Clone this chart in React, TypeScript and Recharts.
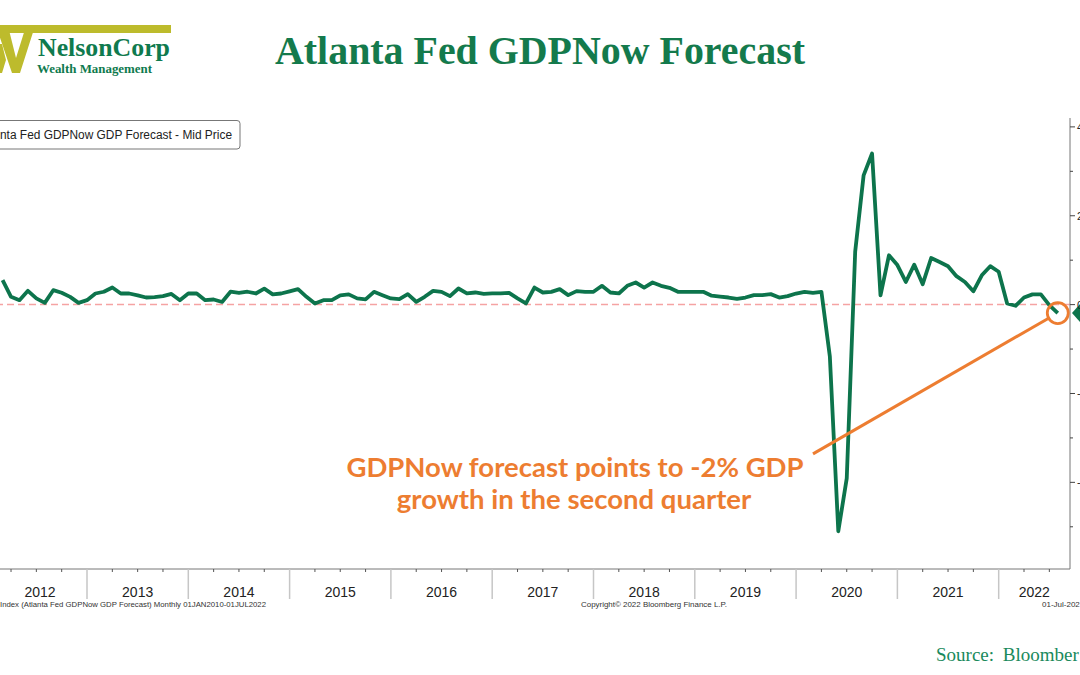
import React from 'react';
import { LineChart, Line, XAxis, YAxis, ReferenceLine, ReferenceDot } from 'recharts';

// ---- data (month-end readings of the Atlanta Fed GDPNow forecast, %) ----
const gdp2012 = [5.5, 1.75, 1.0, 3.1, 1.4, 0.4, 3.25, 2.66, 1.75, 0.4, 1.0]; // Feb–Dec
const gdp2013 = [2.5, 2.9, 3.86, 2.5, 2.5, 2.1, 1.6, 1.7, 1.9, 2.4, 1.0, 2.5];
const gdp2014 = [2.5, 1.0, 1.15, 0.6, 2.9, 2.66, 2.9, 2.5, 3.6, 2.3, 2.5, 3.0];
const gdp2015 = [3.5, 1.75, 0.26, 1.0, 1.0, 2.1, 2.3, 1.4, 1.16, 2.88, 2.13, 1.39];
const gdp2016 = [1.24, 2.36, 0.64, 1.76, 3.1, 2.88, 1.91, 3.63, 2.51, 2.73, 2.43, 2.51];
const gdp2017 = [2.51, 2.66, 1.39, 0.26, 3.85, 2.73, 2.88, 3.48, 2.13, 3.03, 2.88, 2.88];
const gdp2018 = [4.23, 2.73, 2.51, 4.23, 4.98, 3.85, 4.98, 4.23, 3.78, 2.88, 2.88, 2.88];
const gdp2019 = [2.88, 2.0, 1.8, 1.6, 1.3, 1.6, 2.13, 2.13, 2.36, 1.6, 1.9, 2.5];
const gdp2020 = [2.88, 2.66, 2.88, -11.7, -51.0, -39.1, 11.9, 29.1, 34.0, 2.1, 11.1, 8.9];
const gdp2021 = [5.1, 9.0, 4.6, 10.5, 9.6, 8.65, 6.4, 5.1, 3.0, 6.6, 8.65, 7.4];
const gdp2022 = [0.26, -0.26, 1.6, 2.3, 2.3, -0.1, -1.9]; // Jan–Jul

// [year, first month, values]
const yearBlocks: [number, number, number[]][] = [
  [2012, 2, gdp2012],
  [2013, 1, gdp2013],
  [2014, 1, gdp2014],
  [2015, 1, gdp2015],
  [2016, 1, gdp2016],
  [2017, 1, gdp2017],
  [2018, 1, gdp2018],
  [2019, 1, gdp2019],
  [2020, 1, gdp2020],
  [2021, 1, gdp2021],
  [2022, 1, gdp2022],
];

const yearLabels = [2012, 2013, 2014, 2015, 2016, 2017, 2018, 2019, 2020, 2021, 2022];
const majorYTicks = [-40, -20, 0, 20, 40];
const minorYTicks = [-50, -30, -10, 10, 30];

// ---- axis settings ----
const xDomain: [number, number] = [2012.072, 2022.704];
const yDomain: [number, number] = [-59.5, 42];

const data: { t: number; v: number }[] = [];
yearBlocks.forEach(([year, firstMonth, vals]) => {
  vals.forEach((v, i) => data.push({ t: year + (firstMonth + i) / 12, v }));
});
const lastPoint = data[data.length - 1];

// tick lists
const boundaryTicks = yearLabels.filter((y) => y > xDomain[0] && y < xDomain[1]);
const quarterTicks: number[] = [];
yearLabels.forEach((y) => {
  [0.25, 0.5, 0.75].forEach((q) => {
    const t = y + q;
    if (t > xDomain[0] && t < xDomain[1]) quarterTicks.push(t);
  });
});
const labelTicks = yearLabels.map((y) => {
  const lo = Math.max(y, xDomain[0]);
  const hi = Math.min(y + 1, xDomain[1]);
  return { year: y, t: (lo + hi) / 2 };
});
const allXTicks = Array.from(
  new Set([...boundaryTicks, ...quarterTicks, ...labelTicks.map((l) => l.t)].map((v) => Math.round(v * 1e6) / 1e6))
).sort((a, b) => a - b);
const allYTicks = [...majorYTicks, ...minorYTicks].sort((a, b) => a - b);

const near = (a: number, b: number) => Math.abs(a - b) < 1e-4;

const GREEN = '#0d744c';
const ORANGE = '#ED7D31';
const AXIS_FONT = '"Liberation Sans", Arial, sans-serif';
const SERIF = '"Liberation Serif", "Times New Roman", serif';

const renderXTick = (props: any) => {
  const { x, y, payload } = props;
  const v = payload.value;
  const isBoundary = boundaryTicks.some((b) => near(b, v));
  const isQuarter = quarterTicks.some((q) => near(q, v));
  const label = labelTicks.find((l) => near(l.t, v));
  return (
    <g>
      {isBoundary && <line x1={x} x2={x} y1={y} y2={y + 30} stroke="#c6c6c6" strokeWidth={1.5} />}
      {isQuarter && <line x1={x} x2={x} y1={y} y2={y + 3} stroke="#555" strokeWidth={1} />}
      {label && (
        <text x={x} y={y + 27.5} textAnchor="middle" fontSize={14} fontFamily={AXIS_FONT} fill="#222">
          {label.year}
        </text>
      )}
    </g>
  );
};

const renderYTick = (props: any) => {
  const { x, y, payload } = props;
  const v = payload.value;
  const major = majorYTicks.includes(v);
  return (
    <g>
      <line x1={x} x2={x + (major ? 5 : 3)} y1={y} y2={y} stroke="#444" strokeWidth={1} />
      {major && (
        <text x={x + 7} y={y + 4} fontSize={11} fontFamily={AXIS_FONT} fill="#222">
          {v}
        </text>
      )}
    </g>
  );
};

// annotation pointer (data coordinates)
const pointerStart = { x: 2020.167, y: -33.6 };
const pointerEnd = { x: 2022.493, y: -3.06 };

export default function App() {
  return (
    <div
      style={{
        position: 'absolute',
        left: 0,
        top: 0,
        width: 1080,
        height: 675,
        overflow: 'hidden',
        background: '#ffffff',
      }}
    >
      <div style={{ position: 'absolute', left: -7, top: 0 }}>
        <LineChart width={1087} height={675} data={data} margin={{ top: 118, right: 0, bottom: 76, left: 0 }}>
          <XAxis
            dataKey="t"
            type="number"
            domain={xDomain}
            allowDataOverflow
            ticks={allXTicks}
            interval={0}
            tickSize={0}
            tickMargin={0}
            tick={renderXTick}
            axisLine={{ stroke: '#777', strokeWidth: 1 }}
            height={30}
          />
          <YAxis
            orientation="right"
            type="number"
            domain={yDomain}
            allowDataOverflow
            ticks={allYTicks}
            interval={0}
            tickSize={0}
            tickMargin={0}
            tick={renderYTick}
            axisLine={{ stroke: '#777', strokeWidth: 1 }}
            width={10}
          />
          <ReferenceLine y={0} stroke="#f5a3a3" strokeDasharray="7 4" strokeWidth={1.5} />
          <Line
            dataKey="v"
            type="linear"
            stroke={GREEN}
            strokeWidth={3.8}
            strokeLinejoin="round"
            dot={false}
            isAnimationActive={false}
          />
          <ReferenceLine
            segment={[pointerStart, pointerEnd]}
            stroke={ORANGE}
            strokeWidth={3}
            ifOverflow="visible"
          />
          <ReferenceDot
            x={lastPoint.t}
            y={lastPoint.v}
            r={10.5}
            fill="none"
            stroke={ORANGE}
            strokeWidth={2.8}
            ifOverflow="visible"
          />
          <ReferenceDot
            x={xDomain[1]}
            y={lastPoint.v}
            ifOverflow="visible"
            shape={(p: any) => (
              <polygon
                points={`${p.cx + 2},${p.cy} ${p.cx + 10},${p.cy - 9} ${p.cx + 40},${p.cy - 9} ${p.cx + 40},${p.cy + 9} ${p.cx + 10},${p.cy + 9}`}
                fill={GREEN}
              />
            )}
          />
        </LineChart>
      </div>

      <svg width={1080} height={675} style={{ position: 'absolute', left: 0, top: 0, pointerEvents: 'none' }}>
        {/* logo */}
        <rect x={0} y={25} width={171} height={8} fill="#BDBB2C" />
        <polygon points="-4,26 8,26 16,58 26,26 35,26 20,73 12,73" fill="#BDBB2C" />
        <polygon points="-2,44 2,44 6,60 2,73 -2,73" fill="#BDBB2C" />
        <text
          x={38}
          y={56}
          fontFamily={SERIF}
          fontWeight="bold"
          fontSize={25}
          fill="#0f7a4e"
          textLength={132}
          lengthAdjust="spacingAndGlyphs"
        >
          NelsonCorp
        </text>
        <text
          x={37}
          y={72.5}
          fontFamily={SERIF}
          fontWeight="bold"
          fontSize={12.5}
          fill="#0f7a4e"
          textLength={115}
          lengthAdjust="spacingAndGlyphs"
        >
          Wealth Management
        </text>

        {/* title */}
        <text
          x={275}
          y={64}
          fontFamily={SERIF}
          fontWeight="bold"
          fontSize={39}
          fill="#147a4c"
          textLength={530}
          lengthAdjust="spacingAndGlyphs"
        >
          Atlanta Fed GDPNow Forecast
        </text>

        {/* legend box */}
        <rect x={-6} y={120.5} width={246} height={28.5} rx={3} fill="#fff" stroke="#777" strokeWidth={1} />
        <text x={0} y={138.5} fontFamily={AXIS_FONT} fontSize={12.5} fill="#222" textLength={232} lengthAdjust="spacingAndGlyphs">
          nta Fed GDPNow GDP Forecast - Mid Price
        </text>

        {/* annotation */}
        <text
          x={575}
          y={477}
          textAnchor="middle"
          fontFamily='Lato, "Open Sans", sans-serif'
          fontWeight="bold"
          fontSize={27.5}
          fill={ORANGE}
        >
          GDPNow forecast points to -2% GDP
        </text>
        <text
          x={574}
          y={509}
          textAnchor="middle"
          fontFamily='Lato, "Open Sans", sans-serif'
          fontWeight="bold"
          fontSize={27.5}
          fill={ORANGE}
        >
          growth in the second quarter
        </text>

        {/* footer */}
        <text x={0} y={607} fontFamily={AXIS_FONT} fontSize={8} fill="#333" textLength={266} lengthAdjust="spacingAndGlyphs">
          Index (Atlanta Fed GDPNow GDP Forecast)  Monthly 01JAN2010-01JUL2022
        </text>
        <text x={581} y={607} fontFamily={AXIS_FONT} fontSize={8} fill="#333" textLength={146} lengthAdjust="spacingAndGlyphs">
          Copyright© 2022 Bloomberg Finance L.P.
        </text>
        <text x={1042} y={607} fontFamily={AXIS_FONT} fontSize={8} fill="#333">
          01-Jul-202
        </text>

        {/* source */}
        <text x={936} y={661} fontFamily={SERIF} fontSize={19} fill="#1a8a5c" wordSpacing={4}>
          Source: Bloomber
        </text>
      </svg>
    </div>
  );
}
